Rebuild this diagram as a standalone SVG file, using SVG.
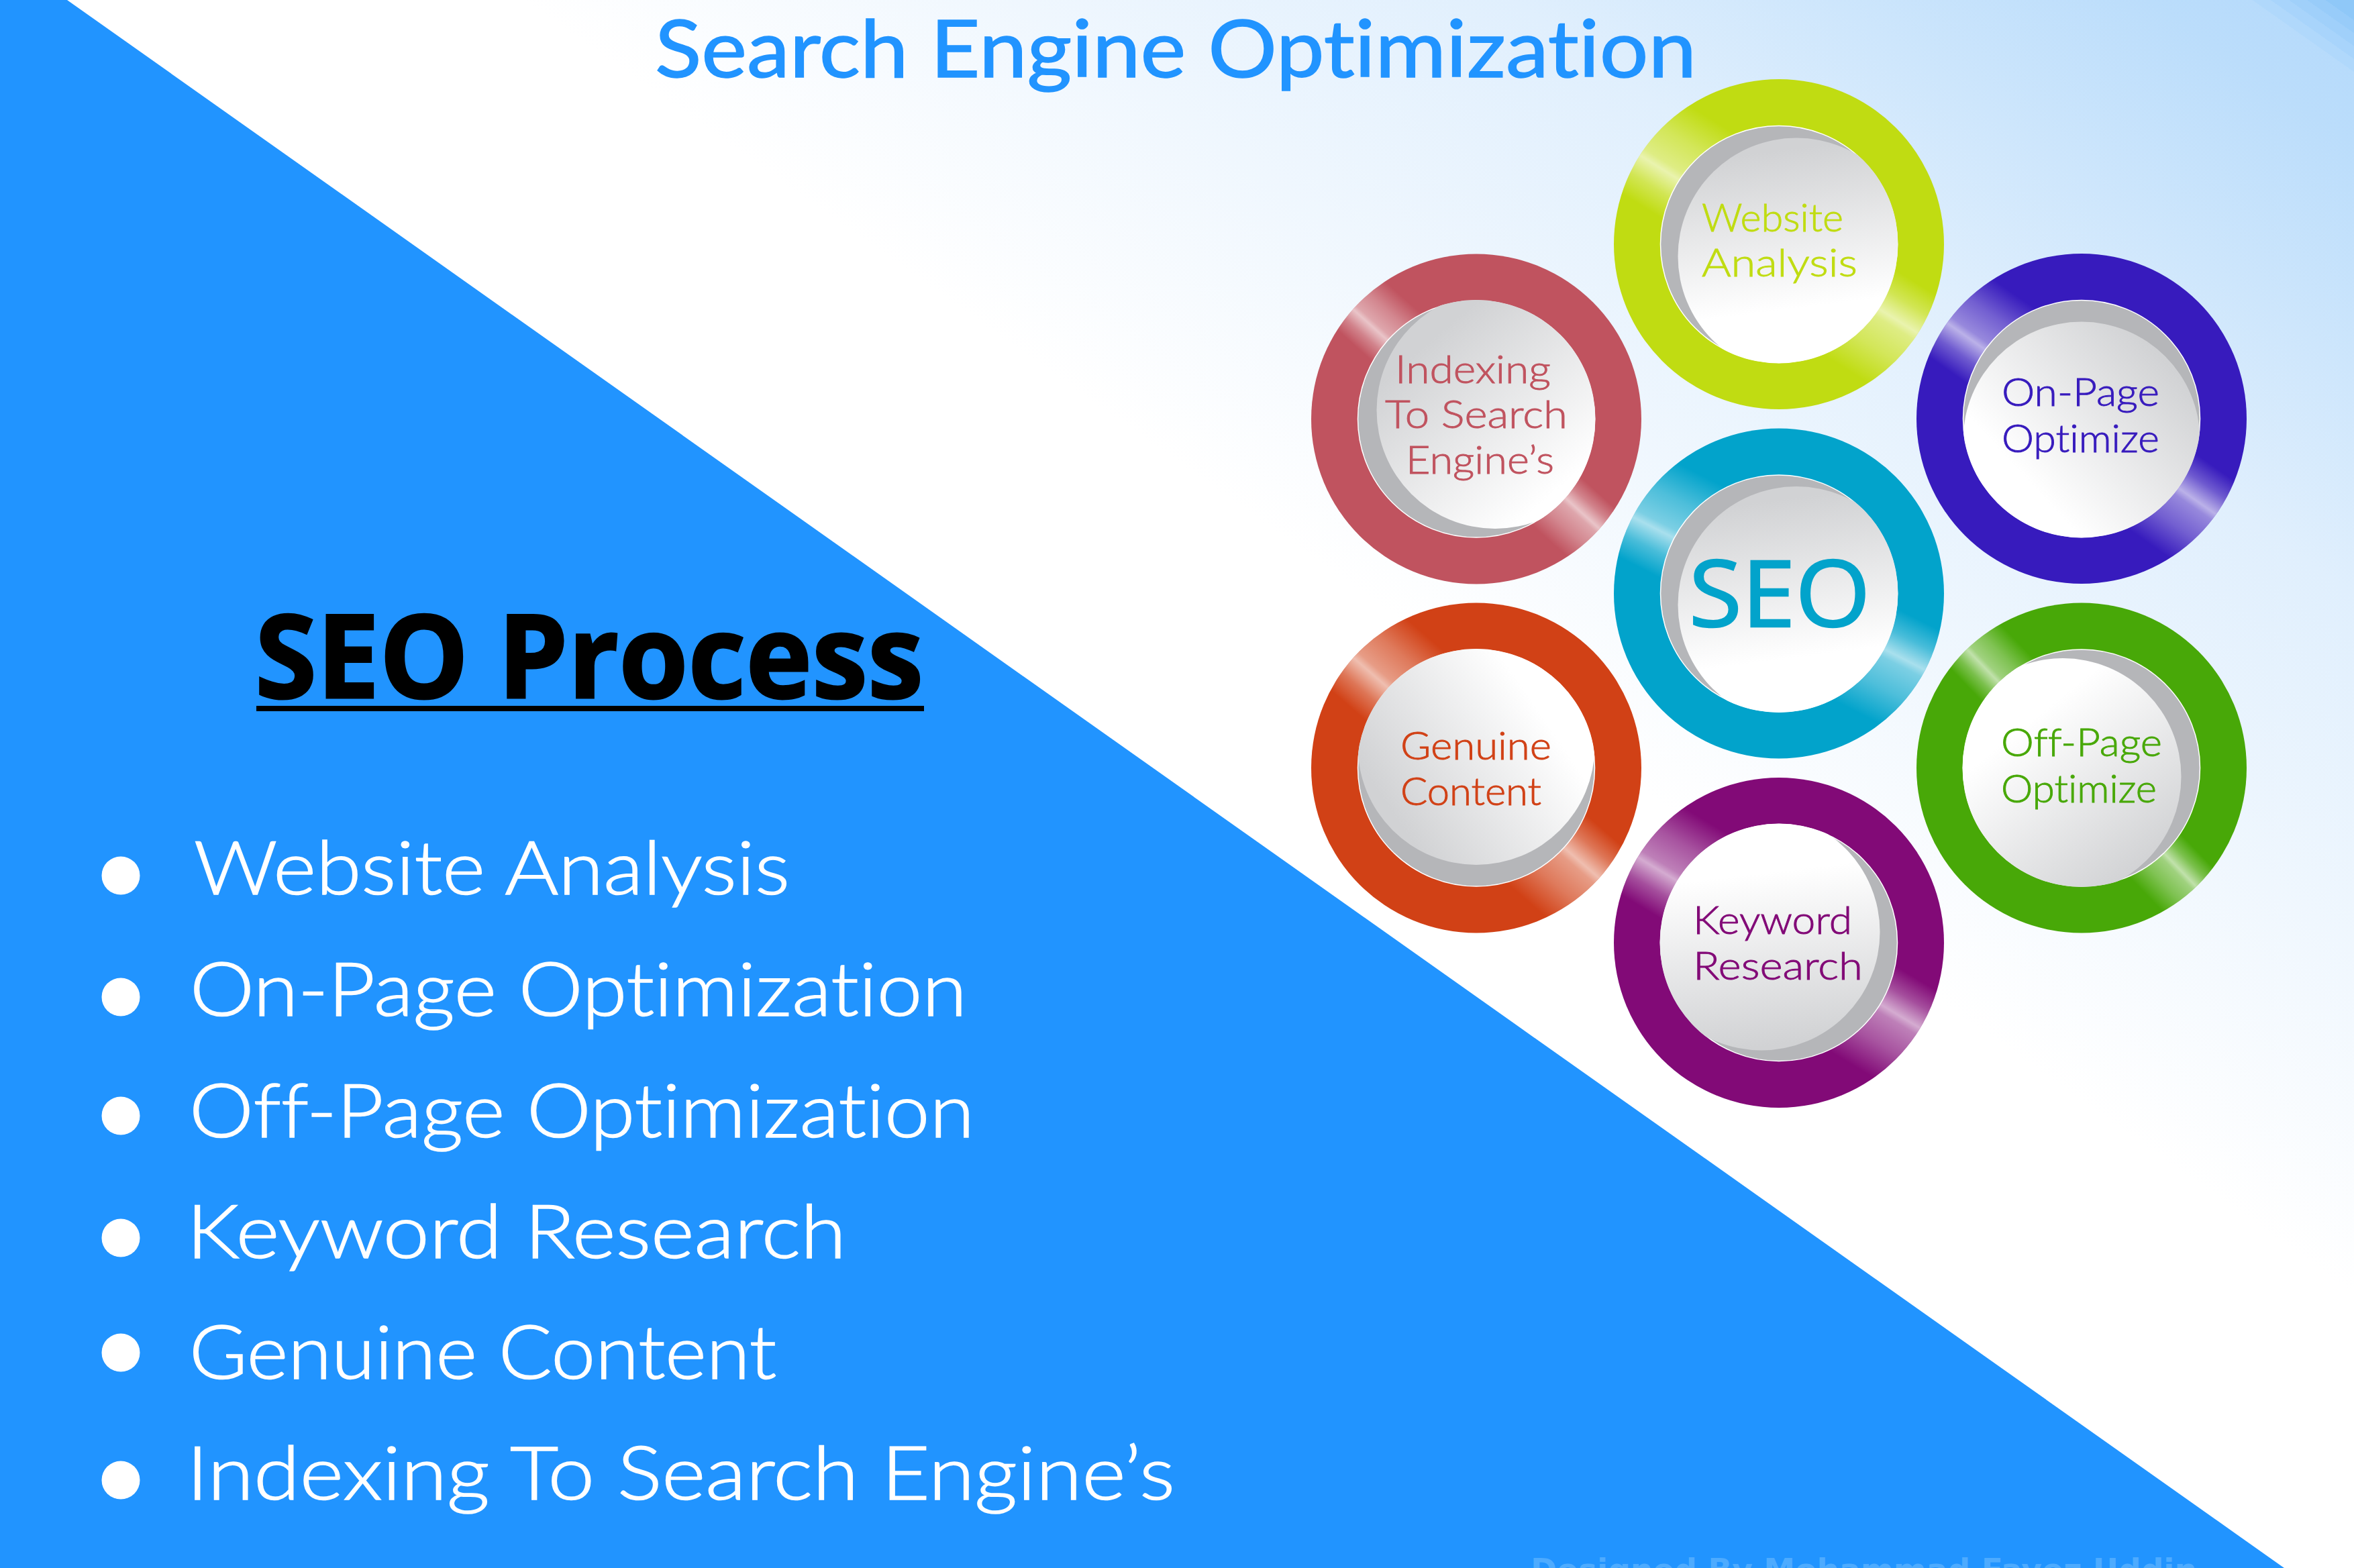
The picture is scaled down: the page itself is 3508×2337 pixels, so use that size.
<svg xmlns="http://www.w3.org/2000/svg" width="3508" height="2337" viewBox="0 0 3508 2337">
<style>
text{font-family:"Lato","Noto Sans",sans-serif;font-weight:300;font-variant-ligatures:none}
.hd{font-size:119px;font-weight:400;fill:#2194ff;stroke:#2194ff;stroke-width:1.5}
.li{font-size:110px;fill:#fff;stroke:#fff;stroke-width:1.6}
.lb{font-size:57px;fill:currentColor;stroke:currentColor;stroke-width:.9}
.os{font-family:"Open Sans","Noto Sans",sans-serif}
.dj{font-family:"DejaVu Sans",sans-serif}
.bu{fill:#fff}
.base{fill:#b5b6b9;stroke:#fff;stroke-width:1.5}
</style>
<defs>
<linearGradient id="bg" gradientUnits="userSpaceOnUse" x1="100" y1="0" x2="1234" y2="-1604">
<stop offset=".2" stop-color="#fff"/><stop offset=".633" stop-color="#e0effd"/><stop offset=".912" stop-color="#bbddfb"/><stop offset=".957" stop-color="#b7dbfb"/>
<stop offset=".957" stop-color="#b0d8fb"/><stop offset=".965" stop-color="#b0d8fb"/><stop offset=".965" stop-color="#a8d4fb"/><stop offset=".973" stop-color="#a8d4fb"/><stop offset=".973" stop-color="#a0d0fa"/><stop offset=".981" stop-color="#a0d0fa"/><stop offset=".981" stop-color="#98ccf9"/><stop offset=".989" stop-color="#98ccf9"/><stop offset=".989" stop-color="#8fc8f8"/><stop offset="1" stop-color="#8fc8f8"/>
</linearGradient>
<linearGradient id="shine" x1="0" y1="0" x2="0" y2="1">
<stop offset="0" stop-color="#fff" stop-opacity="0"/><stop offset=".3" stop-color="#fff" stop-opacity=".3"/><stop offset=".55" stop-color="#fff" stop-opacity=".48"/><stop offset=".62" stop-color="#fff" stop-opacity=".66"/><stop offset=".8" stop-color="#fff" stop-opacity=".28"/><stop offset="1" stop-color="#fff" stop-opacity="0"/>
</linearGradient>
<clipPath id="outer"><circle r="246"/></clipPath>
<clipPath id="inner"><circle r="177.5"/></clipPath>
<linearGradient id="g-web" gradientUnits="userSpaceOnUse" x1="0" y1="-140" x2="30" y2="95"><stop offset="0" stop-color="#d1d2d4"/><stop offset="1" stop-color="#fff"/></linearGradient>
<linearGradient id="g-on" gradientUnits="userSpaceOnUse" x1="150" y1="-60" x2="-50" y2="125"><stop offset="0" stop-color="#d1d2d4"/><stop offset="1" stop-color="#fff"/></linearGradient>
<linearGradient id="g-off" gradientUnits="userSpaceOnUse" x1="124" y1="125" x2="-48" y2="-92"><stop offset="0" stop-color="#d1d2d4"/><stop offset="1" stop-color="#fff"/></linearGradient>
<linearGradient id="g-key" gradientUnits="userSpaceOnUse" x1="15" y1="150" x2="-15" y2="-105"><stop offset="0" stop-color="#d1d2d4"/><stop offset="1" stop-color="#fff"/></linearGradient>
<linearGradient id="g-gen" gradientUnits="userSpaceOnUse" x1="-130" y1="60" x2="90" y2="-90"><stop offset="0" stop-color="#d1d2d4"/><stop offset="1" stop-color="#fff"/></linearGradient>
<linearGradient id="g-idx" gradientUnits="userSpaceOnUse" x1="-98" y1="-92" x2="91" y2="131"><stop offset="0" stop-color="#d1d2d4"/><stop offset="1" stop-color="#fff"/></linearGradient>
</defs>
<rect id="background" width="3508" height="2337" fill="url(#bg)"/>
<polygon id="blue-panel" points="0,0 100,0 3404,2337 0,2337" fill="#2194ff"/>
<text id="title" class="hd" x="976" y="115" textLength="1552" lengthAdjust="spacingAndGlyphs">Search Engine Optimization</text>
<g id="heading">
<text class="os" x="380" y="1040" font-size="172" style="font-weight:700" fill="#000" stroke="#000" stroke-width="3" textLength="996" lengthAdjust="spacingAndGlyphs">SEO Process</text>
<rect x="382" y="1052" width="995" height="8" fill="#000"/>
</g>
<g id="process-list">
<circle class="bu" cx="180" cy="1305" r="28.5"/><text class="li" x="289" y="1333" textLength="888" lengthAdjust="spacingAndGlyphs">Website Analysis</text>
<circle class="bu" cx="180" cy="1486" r="28.5"/><text class="li" x="283" y="1514" textLength="1158" lengthAdjust="spacingAndGlyphs">On-Page Optimization</text>
<circle class="bu" cx="180" cy="1663" r="28.5"/><text class="li" x="282" y="1695" textLength="1170" lengthAdjust="spacingAndGlyphs">Off-Page Optimization</text>
<circle class="bu" cx="180" cy="1845" r="28.5"/><text class="li" x="278" y="1875" textLength="983" lengthAdjust="spacingAndGlyphs">Keyword Research</text>
<circle class="bu" cx="180" cy="2016" r="28.5"/><text class="li" x="282" y="2055" textLength="875" lengthAdjust="spacingAndGlyphs">Genuine Content</text>
<circle class="bu" cx="180" cy="2206" r="28.5"/><text class="li" x="278" y="2235" textLength="1473" lengthAdjust="spacingAndGlyphs">Indexing To Search Engine’s</text>
</g>
<g id="node-website" transform="translate(2651 364)" color="#c0dc12">
<circle r="246" fill="#c0dc12"/>
<g clip-path="url(#outer)"><g transform="rotate(32)"><rect x="-250" y="-105" width="250" height="165" fill="url(#shine)"/><rect x="-250" y="-105" width="250" height="165" fill="url(#shine)" transform="rotate(180)"/></g></g>
<circle class="base" r="176.5"/><circle cx="26" cy="18" r="176.5" fill="url(#g-web)" clip-path="url(#inner)"/>
<text class="lb" x="-115" y="-19" textLength="211" lengthAdjust="spacingAndGlyphs">Website</text>
<text class="lb" x="-115" y="48" textLength="232" lengthAdjust="spacingAndGlyphs">Analysis</text>
</g>
<g id="node-on-page" transform="translate(3102 624)" color="#371bbd">
<circle r="246" fill="#371bbd"/>
<g clip-path="url(#outer)"><g transform="rotate(35)"><rect x="-250" y="-95" width="250" height="150" fill="url(#shine)"/><rect x="-250" y="-95" width="250" height="150" fill="url(#shine)" transform="rotate(180)"/></g></g>
<circle class="base" r="176.5"/><circle cy="32" r="176.5" fill="url(#g-on)" clip-path="url(#inner)"/>
<text class="lb" x="-119" y="-19" textLength="235" lengthAdjust="spacingAndGlyphs">On-Page</text>
<text class="lb" x="-119" y="50" textLength="235" lengthAdjust="spacingAndGlyphs">Optimize</text>
</g>
<g id="node-off-page" transform="translate(3102 1144.5)" color="#48a808">
<circle r="246" fill="#48a808"/>
<g clip-path="url(#outer)"><g transform="rotate(46)"><rect x="-250" y="-62" width="250" height="100" fill="url(#shine)"/><rect x="-250" y="-62" width="250" height="100" fill="url(#shine)" transform="rotate(180)"/></g></g>
<circle class="base" r="176.5"/><circle cx="-28" cy="13" r="176.5" fill="url(#g-off)" clip-path="url(#inner)"/>
<text class="lb" x="-120" y="-17.5" textLength="240" lengthAdjust="spacingAndGlyphs">Off-Page</text>
<text class="lb" x="-120" y="51.5" textLength="232" lengthAdjust="spacingAndGlyphs">Optimize</text>
</g>
<g id="node-keyword" transform="translate(2651 1405)" color="#820a77">
<circle r="246" fill="#820a77"/>
<g clip-path="url(#outer)"><g transform="rotate(31)"><rect x="-250" y="-100" width="250" height="160" fill="url(#shine)"/><rect x="-250" y="-100" width="250" height="160" fill="url(#shine)" transform="rotate(180)"/></g></g>
<circle class="base" r="176.5"/><circle cx="-26" cy="-16" r="176.5" fill="url(#g-key)" clip-path="url(#inner)"/>
<text class="lb" x="-128" y="-13.5" textLength="237" lengthAdjust="spacingAndGlyphs">Keyword</text>
<text class="lb" x="-128" y="55" textLength="253" lengthAdjust="spacingAndGlyphs">Research</text>
</g>
<g id="node-genuine" transform="translate(2200 1144.5)" color="#d14116">
<circle r="246" fill="#d14116"/>
<g clip-path="url(#outer)"><g transform="rotate(41)"><rect x="-250" y="-100" width="250" height="155" fill="url(#shine)"/><rect x="-250" y="-100" width="250" height="155" fill="url(#shine)" transform="rotate(180)"/></g></g>
<circle class="base" r="176.5"/><circle cy="-32" r="176.5" fill="url(#g-gen)" clip-path="url(#inner)"/>
<text class="lb" x="-113" y="-12.5" textLength="225" lengthAdjust="spacingAndGlyphs">Genuine</text>
<text class="lb" x="-113" y="55" textLength="210" lengthAdjust="spacingAndGlyphs">Content</text>
</g>
<g id="node-indexing" transform="translate(2200 624.5)" color="#c0535f">
<circle r="246" fill="#c0535f"/>
<g clip-path="url(#outer)"><g transform="rotate(42)"><rect x="-250" y="-62" width="250" height="102" fill="url(#shine)"/><rect x="-250" y="-62" width="250" height="102" fill="url(#shine)" transform="rotate(180)"/></g></g>
<circle class="base" r="176.5"/><circle cx="28" cy="-13" r="176.5" fill="url(#g-idx)" clip-path="url(#inner)"/>
<text class="lb" x="-121" y="-53.5" textLength="232" lengthAdjust="spacingAndGlyphs">Indexing</text>
<text class="lb" x="-136" y="13.5" textLength="272" lengthAdjust="spacingAndGlyphs">To Search</text>
<text class="lb" x="-105" y="81.5" textLength="221" lengthAdjust="spacingAndGlyphs">Engine’s</text>
</g>
<g id="node-seo" transform="translate(2651 884.5)" color="#02a3cb">
<circle r="246" fill="#02a3cb"/>
<g clip-path="url(#outer)"><g transform="rotate(27)"><rect x="-250" y="-105" width="250" height="165" fill="url(#shine)"/><rect x="-250" y="-105" width="250" height="165" fill="url(#shine)" transform="rotate(180)"/></g></g>
<circle class="base" r="176.5"/><circle cx="26" cy="17" r="176.5" fill="url(#g-web)" clip-path="url(#inner)"/>
<text class="os" fill="#02a3cb" stroke="#02a3cb" stroke-width="2.5" x="-134" y="49.5" font-size="138" style="font-weight:400" textLength="270" lengthAdjust="spacingAndGlyphs">SEO</text>
</g>
<text id="credit" class="dj" x="2281" y="2356" font-size="47" style="font-weight:700" fill="#4dabff" textLength="993" lengthAdjust="spacingAndGlyphs">Designed By Mohammad Fayez Uddin</text>
</svg>
